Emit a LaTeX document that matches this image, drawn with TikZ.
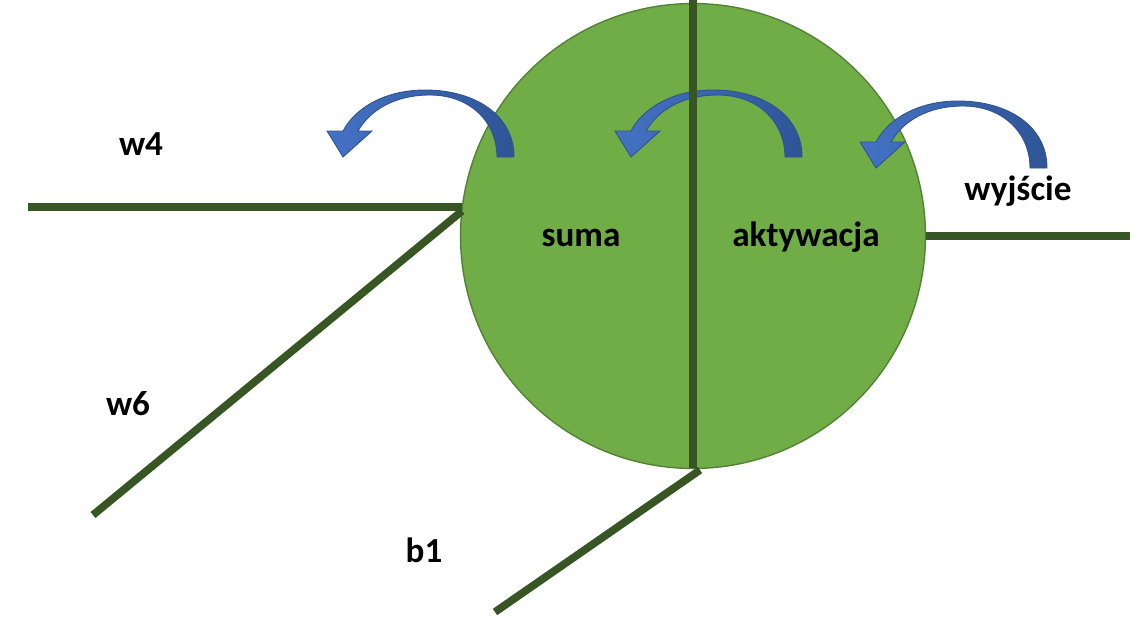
\documentclass[tikz,border=0pt]{standalone}
\usepackage{fontspec}
\setmainfont{Carlito}
\usepackage{xcolor}
\usepackage{tikz}
\usetikzlibrary{positioning}

\definecolor{wiregreen}{HTML}{375623}
\definecolor{neurongreen}{HTML}{70AD47}
\definecolor{neuronedge}{HTML}{548235}
\definecolor{arrowlight}{HTML}{4472C4}
\definecolor{arrowdark}{HTML}{2F5597}
\definecolor{arrowedge}{HTML}{2F528F}

\begin{document}
\begin{tikzpicture}[
    x=0.02cm, y=-0.02cm,
    neuron/.style={circle, draw=neuronedge, fill=neurongreen, line width=0.8pt, minimum size=9.3cm, inner sep=0pt},
    wire/.style={draw=wiregreen, line width=4.4pt},
    lbl/.style={font=\bfseries\fontsize{20}{24}\selectfont, anchor=base, inner sep=0pt},
    turn/.pic={
        \path[left color=arrowlight, right color=arrowdark, draw=arrowedge, line width=0.5pt]
            (0,0) .. controls (0,-42) and (-39,-67) .. (-89,-67)
            .. controls (-129,-67) and (-159,-49) .. (-171,-26)
            -- (-187,-26) -- (-171,0) -- (-142,-26) -- (-156,-26)
            .. controls (-144,-47) and (-119,-62) .. (-84,-62)
            .. controls (-44,-62) and (-17,-35) .. (-17,0) -- cycle;
    }
]
    \useasboundingbox (0,0) rectangle (1144,622);

    \node[neuron] (neuron) at (693,236) {};

    % inputs
    \coordinate (in4) at (28,207);
    \coordinate (hub4) at (462,207);
    \coordinate (hub6) at (462,211);
    \coordinate (in6) at (93,515);
    \coordinate (top) at (693,0);
    \coordinate (bottom) at (693,468);
    \coordinate (hubb) at (700,470);
    \coordinate (inb) at (495,612);
    \coordinate (out) at (1130,236);

    \draw[wire] (in4) -- (hub4);
    \draw[wire] (hub6) -- (in6);
    \draw[wire] (hubb) -- (inb);
    \draw[wire] (neuron.east) -- (out);

    % curved arrows
    \pic at (514,157) {turn};
    \pic at (802,157) {turn};
    \pic at (1047,168) {turn};

    \draw[wire] (top) -- (bottom);

    \node[lbl] (w4) at (141,155) {w4};
    \node[lbl] (w6) at (128,415) {w6};
    \node[lbl] (b1) at (424,562) {b1};
    \node[lbl] (suma) at (581,246) {suma};
    \node[lbl] (akt) at (806,246) {aktywacja};
    \node[lbl] (out label) at (1018,200) {wyjście};
\end{tikzpicture}
\end{document}
